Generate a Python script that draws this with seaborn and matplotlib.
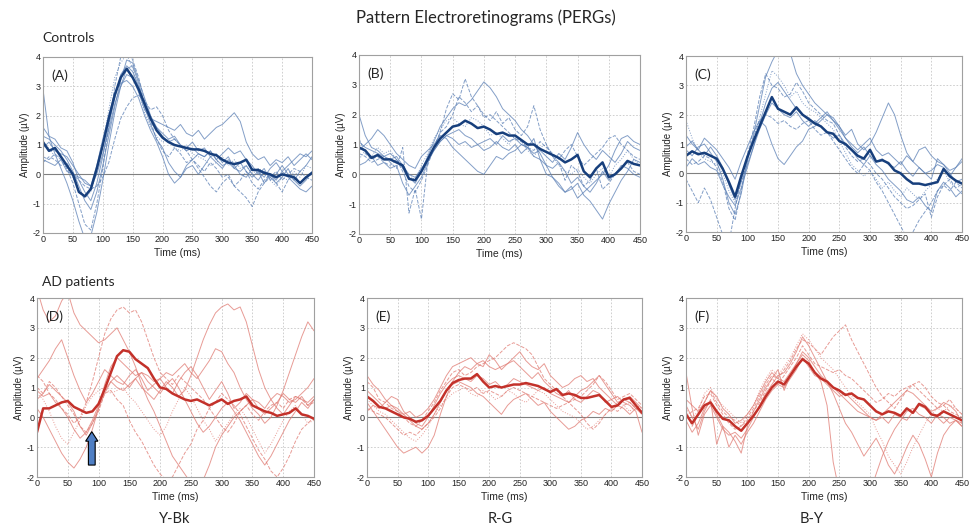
import matplotlib
matplotlib.use("Agg")
import matplotlib.pyplot as plt
import numpy as np
import pandas as pd
import seaborn as sns

# time axis (ms), one sample every 10 ms
time_ms = list(range(0, 451, 10))

# ---- Controls, Y-Bk (A) ----
a_mean = [1.1, 0.8, 0.9, 0.6, 0.3, 0.0, -0.6, -0.75, -0.5, 0.2, 1.0, 1.9, 2.7, 3.3, 3.6, 3.3, 2.9, 2.4, 1.9, 1.5,
          1.25, 1.1, 1.0, 0.95, 0.9, 0.85, 0.85, 0.8, 0.7, 0.65, 0.5, 0.4, 0.35, 0.4, 0.5, 0.15, 0.15, 0.05, 0.0, -0.1,
          0.0, -0.05, -0.1, -0.3, -0.1, 0.05]
a1 = [1.3, 1.2, 1.0, 0.8, 0.5, 0.1, -0.4, -0.9, -1.2, -0.6, 0.3, 1.3, 2.3, 3.2, 3.9, 3.8, 3.2, 2.6, 2.0, 1.6, 1.3, 1.1,
      1.2, 1.0, 0.8, 0.9, 0.7, 0.6, 0.8, 0.5, 0.3, 0.4, 0.2, 0.1, 0.3, 0.0, -0.2, 0.1, -0.1, -0.3, -0.1, 0.2, -0.2, -0.4,
      -0.2, 0.1]
a2 = [0.6, 0.5, 0.7, 0.5, 0.2, -0.3, -1.0, -1.7, -1.9, -1.0, 0.2, 1.6, 3.0, 4.0, 4.3, 3.9, 3.3, 2.5, 1.8, 1.2, 0.8, 0.6,
      0.9, 0.7, 0.4, 0.5, 0.3, 0.1, 0.4, 0.2, -0.1, 0.0, -0.4, -0.2, 0.1, -0.3, -0.5, -0.2, 0.0, -0.3, -0.6, -0.2, 0.0,
      -0.3, -0.1, -0.2]
a3 = [0.9, 1.1, 0.8, 0.7, 0.6, 0.3, 0.0, -0.3, -0.4, 0.0, 0.7, 1.5, 2.4, 3.0, 3.4, 3.3, 2.8, 2.2, 1.9, 1.8, 1.7, 1.6,
      1.5, 1.7, 1.4, 1.3, 1.5, 1.2, 1.4, 1.6, 1.7, 1.9, 2.1, 1.8, 1.1, 0.7, 0.5, 0.6, 0.3, 0.5, 0.4, 0.6, 0.3, 0.5, 0.7,
      0.5]
a4 = [0.4, 0.6, 0.5, 0.3, 0.4, 0.0, -0.2, -0.4, -0.5, -0.4, -0.1, 0.4, 1.2, 1.9, 2.3, 2.6, 2.7, 2.5, 2.2, 2.3, 2.0, 1.5,
      1.2, 1.0, 0.8, 0.5, 0.2, -0.1, -0.4, -0.6, -0.3, -0.1, -0.4, -0.6, -0.8, -1.1, -0.6, -0.3, -0.1, 0.1, -0.2, 0.0,
      0.2, 0.1, -0.1, 0.0]
a5 = [1.6, 1.3, 1.2, 0.9, 0.8, 0.4, -0.2, -0.6, -0.9, -0.3, 0.6, 1.7, 2.6, 3.4, 3.7, 3.5, 3.0, 2.3, 1.7, 1.2, 0.9, 0.4,
      0.1, -0.1, 0.2, 0.3, 0.0, 0.3, 0.6, 0.4, 0.2, 0.5, 0.3, 0.0, -0.1, 0.2, 0.1, -0.1, 0.2, 0.4, 0.1, 0.3, 0.5, 0.7,
      0.6, 0.8]
a6 = [2.9, 1.3, 0.7, 0.2, -0.3, -0.9, -1.6, -2.2, -2.1, -1.3, -0.2, 1.0, 2.1, 3.0, 3.6, 3.7, 3.1, 2.4, 1.9, 1.6, 1.4,
      1.2, 1.3, 1.0, 0.9, 1.1, 0.8, 0.9, 0.6, 0.7, 0.4, 0.6, 0.2, 0.4, 0.1, -0.1, 0.1, -0.3, 0.0, -0.2, 0.1, -0.1, -0.3,
      -0.5, -0.6, -0.4]
a7 = [1.0, 0.9, 0.6, 0.6, 0.2, -0.1, -0.5, -0.8, -0.6, 0.1, 1.0, 2.2, 3.3, 3.8, 4.1, 3.6, 2.9, 2.1, 1.6, 1.3, 1.1, 1.2,
      0.9, 0.8, 1.0, 0.7, 0.6, 0.5, 0.3, 0.4, 0.6, 0.3, 0.5, 0.2, 0.3, 0.0, 0.2, 0.1, -0.2, -0.4, -0.1, -0.2, 0.1, -0.1,
      0.3, 0.2]
a8 = [0.5, 0.4, 0.3, 0.5, 0.1, 0.0, -0.1, -0.2, -0.4, 0.3, 1.2, 2.0, 2.8, 3.1, 3.2, 3.0, 2.6, 2.0, 1.5, 1.1, 0.6, 0.0,
      -0.3, -0.1, 0.3, 0.5, 0.7, 0.6, 0.8, 0.5, 0.7, 0.9, 0.7, 0.8, 0.5, 0.3, 0.0, 0.2, -0.2, 0.0, 0.3, 0.0, -0.2, 0.1,
      0.3, 0.6]

# ---- Controls, R-G (B) ----
b_mean = [0.9, 0.8, 0.55, 0.65, 0.5, 0.5, 0.4, 0.3, -0.15, -0.2, 0.1, 0.5, 0.9, 1.2, 1.4, 1.6, 1.65, 1.8, 1.7, 1.55,
          1.6, 1.5, 1.35, 1.4, 1.3, 1.3, 1.15, 1.0, 1.0, 0.85, 0.75, 0.65, 0.55, 0.4, 0.5, 0.65, 0.1, -0.1, 0.2, 0.4,
          -0.1, 0.0, 0.2, 0.45, 0.35, 0.3]
b1 = [1.1, 0.9, 0.8, 0.7, 0.6, 0.7, 0.5, 0.2, -0.1, -0.3, 0.1, 0.6, 1.1, 1.6, 1.9, 2.2, 2.4, 2.3, 2.5, 2.8, 3.1, 2.9,
      2.6, 2.2, 2.0, 1.8, 1.5, 1.3, 1.0, 0.7, 0.3, -0.1, -0.4, -0.6, -0.5, -0.3, -0.7, -0.9, -1.2, -1.5, -1.0, -0.6,
      -0.2, 0.1, 0.5, 0.4]
b2 = [0.7, 0.6, 0.4, 0.5, 0.6, 0.4, 0.2, 0.9, -1.3, -0.5, -1.5, 0.4, 0.9, 1.4, 2.2, 2.7, 2.5, 3.2, 2.6, 2.3, 2.0, 1.8,
      2.1, 1.7, 1.9, 1.5, 1.3, 1.6, 2.3, 1.5, 1.0, 0.6, 0.4, -0.2, 0.3, 0.1, -0.4, -0.2, 0.2, -0.5, -0.3, 0.0, 0.2, 0.4,
      0.1, 0.0]
b3 = [0.8, 1.0, 1.2, 1.5, 1.3, 1.0, 0.7, 0.5, 0.3, 0.2, 0.6, 0.8, 1.0, 1.3, 1.2, 0.9, 0.7, 0.5, 0.3, 0.1, 0.0, 0.3, 0.6,
      0.5, 0.7, 0.8, 1.0, 0.9, 1.2, 0.5, 0.0, -0.1, -0.3, -0.6, -0.4, -0.8, -0.6, -0.4, -0.2, 0.0, 0.3, 0.8, 1.2, 1.3,
      1.1, 1.0]
b4 = [1.2, 0.7, 0.5, 0.6, 0.4, 0.3, 0.5, 0.1, -0.4, -0.6, -0.2, 0.3, 0.9, 1.4, 1.6, 2.0, 2.6, 2.4, 2.1, 2.3, 1.9, 2.0,
      1.8, 1.6, 1.4, 1.2, 1.1, 0.9, 0.8, 1.1, 0.9, 0.7, 0.5, 0.8, 1.0, 0.6, 0.3, 0.5, 0.7, 0.9, 1.2, 1.3, 1.0, 0.8, 0.6,
      0.5]
b5 = [0.3, 0.4, 0.6, 0.3, 0.4, 0.2, 0.3, -0.3, -0.7, -0.4, -0.1, 0.4, 0.8, 1.1, 1.3, 1.2, 1.0, 1.1, 0.9, 1.0, 0.8, 0.9,
      1.1, 0.9, 0.8, 1.0, 0.7, 0.9, 0.6, 0.5, 0.3, 0.2, 0.4, 0.1, -0.3, -0.1, -0.4, -0.6, -0.3, 0.1, -0.2, 0.0, 0.3, 0.2,
      0.0, -0.1]
b6 = [2.0, 1.3, 0.9, 0.8, 0.6, 0.5, 0.6, 0.3, 0.0, -0.1, 0.2, 0.5, 0.8, 1.1, 1.3, 1.4, 1.5, 1.3, 1.2, 1.0, 1.1, 1.2,
      1.0, 1.3, 1.1, 1.2, 1.0, 0.9, 0.7, 0.8, 0.6, 0.4, 0.7, 0.5, 0.9, 1.4, 1.0, 0.7, 0.5, 0.8, 0.6, 0.4, 0.7, 1.1, 0.9,
      0.8]
b7 = [0.5, 0.8, 0.6, 0.9, 0.7, 0.8, 0.5, 0.2, 0.0, -0.2, 0.3, 0.7, 1.2, 1.5, 1.8, 1.9, 1.7, 1.6, 1.9, 1.8, 1.6, 1.3,
      1.4, 1.2, 1.0, 1.3, 1.1, 0.8, 0.6, 0.9, 1.0, 0.6, 0.3, 0.1, 0.0, 0.2, -0.1, -0.3, 0.0, 0.2, -0.1, 0.3, 0.5, 0.8,
      0.5, 0.3]

# ---- Controls, B-Y (C) ----
c_mean = [0.6, 0.75, 0.65, 0.7, 0.6, 0.5, 0.15, -0.3, -0.8, -0.1, 0.55, 1.1, 1.6, 2.1, 2.6, 2.2, 2.1, 2.0, 2.25, 2.0,
          1.85, 1.7, 1.6, 1.4, 1.35, 1.1, 1.0, 0.8, 0.6, 0.5, 0.8, 0.4, 0.45, 0.35, 0.1, 0.0, -0.2, -0.35, -0.35, -0.4,
          -0.35, -0.3, 0.15, -0.1, -0.25, -0.35]
c1 = [0.8, 0.6, 0.9, 1.0, 0.7, 0.4, -0.2, -1.0, -1.4, -0.7, 0.4, 1.3, 2.3, 3.3, 3.8, 4.2, 4.4, 4.1, 3.4, 3.0, 2.7, 2.4,
      2.2, 2.0, 1.8, 1.6, 1.2, 0.9, 0.7, 0.9, 0.6, 0.3, 0.1, -0.2, -0.4, -0.6, -0.9, -1.0, -0.8, -1.1, -1.3, -0.6, -0.3,
      -0.5, -0.8, -0.6]
c2 = [0.5, 0.3, 0.4, 0.6, 0.5, 0.2, -0.3, -1.2, -1.6, -0.6, 0.6, 1.5, 2.6, 3.4, 3.0, 2.9, 2.6, 2.7, 3.1, 2.8, 2.4, 2.2,
      2.0, 1.8, 1.7, 1.3, 0.9, 0.6, 0.4, 0.5, 0.3, 0.0, -0.2, -0.5, -0.8, -1.0, -1.2, -1.1, -0.9, -0.7, -1.5, -0.8, -0.4,
      -0.6, -0.3, -0.5]
c3 = [1.3, 1.0, 0.8, 1.2, 1.0, 0.8, 0.5, 0.2, -0.2, 0.4, 0.9, 1.4, 1.8, 1.6, 1.0, 0.5, 0.3, 0.6, 0.9, 1.1, 1.5, 1.6,
      1.8, 2.0, 1.9, 1.6, 1.3, 1.5, 1.0, 0.8, 1.0, 1.4, 1.9, 2.4, 2.0, 1.3, 0.7, 0.4, 0.2, 0.0, 0.1, 0.3, 0.2, -0.1, 0.2,
      0.4]
c4 = [-0.2, -0.6, -1.0, -0.5, -0.9, -1.5, -2.1, -2.4, -1.2, -0.2, 0.6, 1.2, 1.8, 2.0, 1.9, 1.7, 1.8, 1.6, 1.5, 1.7, 1.8,
      1.5, 1.3, 1.4, 1.1, 0.8, 0.5, 0.2, 0.0, 0.3, 0.1, -0.3, -0.6, -1.0, -1.4, -1.8, -2.2, -2.0, -1.6, -1.3, -1.0, -0.6,
      -0.4, -0.2, -0.5, -0.7]
c5 = [0.9, 1.1, 0.8, 0.6, 0.9, 0.6, 0.2, -0.4, -0.9, -0.3, 0.3, 0.9, 1.5, 2.0, 2.4, 2.2, 2.0, 1.9, 2.1, 1.8, 1.6, 1.8,
      1.6, 1.4, 1.2, 1.3, 1.0, 0.8, 0.5, 0.3, 0.6, 0.4, 0.5, 0.3, 0.2, 0.4, 0.1, -0.1, 0.2, 0.0, -0.2, 0.5, 0.3, 0.0,
      -0.3, -0.2]
c6 = [0.2, 0.5, 0.3, 0.4, 0.2, 0.1, -0.4, -0.8, -1.1, -0.5, 0.2, 0.9, 1.7, 2.4, 2.9, 3.1, 2.8, 2.5, 2.2, 2.0, 1.9, 1.7,
      1.9, 2.1, 1.8, 1.5, 1.2, 1.0, 0.8, 1.0, 1.2, 0.8, 0.6, 0.7, 0.5, 0.3, 0.6, 0.4, 0.8, 0.9, 0.6, 0.4, 0.3, 0.1, 0.2,
      0.5]
c7 = [1.8, 1.2, 0.7, 0.5, 0.4, 0.3, 0.0, -0.6, -1.0, -0.3, 0.5, 1.2, 1.9, 2.7, 3.5, 3.3, 3.0, 2.6, 2.8, 2.4, 2.2, 2.1,
      1.9, 1.7, 1.5, 1.1, 0.7, 0.3, 0.1, -0.1, 0.1, -0.2, -0.5, -0.3, -0.6, -0.8, -0.5, -0.7, -0.9, -0.6, -0.4, -0.2,
      0.1, -0.3, -0.5, -0.4]

# ---- AD patients, Y-Bk (D) ----
d_mean = [-0.5, 0.3, 0.3, 0.4, 0.5, 0.55, 0.35, 0.25, 0.15, 0.2, 0.45, 0.95, 1.5, 2.05, 2.25, 2.2, 1.95, 1.8, 1.65, 1.3,
          1.0, 0.95, 0.8, 0.7, 0.6, 0.55, 0.6, 0.5, 0.4, 0.5, 0.6, 0.45, 0.55, 0.6, 0.7, 0.4, 0.3, 0.2, 0.15, 0.05, 0.1,
          0.15, 0.3, 0.1, 0.05, -0.05]
d1 = [4.3, 3.6, 3.2, 3.4, 3.9, 4.2, 3.5, 3.1, 2.9, 2.7, 2.5, 2.6, 2.8, 3.0, 2.6, 2.2, 1.7, 1.1, 0.6, 0.2, -0.3, -0.8,
      -1.3, -1.6, -1.9, -2.2, -2.5, -2.1, -1.6, -1.0, -0.6, -0.3, 0.0, 0.2, 0.4, 0.6, 0.5, 0.3, 0.6, 0.8, 0.7, 0.5, 0.6,
      0.8, 1.0, 1.3]
d2 = [1.4, 1.2, 0.8, 0.6, 0.3, 0.1, -0.2, 0.0, 0.5, 1.2, 2.0, 2.8, 3.3, 3.6, 3.7, 3.5, 3.6, 3.2, 2.6, 2.0, 1.5, 1.3,
      1.1, 1.4, 1.2, 1.0, 0.8, 0.6, 0.3, 0.0, -0.3, -0.5, -0.2, 0.2, 0.4, 0.1, -0.1, 0.2, 0.4, 0.5, 0.3, 0.6, 0.7, 0.6,
      0.4, 0.5]
d3 = [0.6, 0.8, 1.1, 0.9, 0.7, 0.5, 0.2, -0.3, -0.6, -0.2, 0.3, 0.8, 1.2, 1.0, 0.9, 1.1, 1.3, 1.0, 0.8, 0.6, 0.9, 1.2,
      1.0, 0.7, 0.9, 1.4, 2.0, 2.6, 3.1, 3.5, 3.7, 3.8, 3.6, 3.7, 3.2, 2.4, 1.6, 1.0, 0.6, 0.3, 0.1, 0.4, 0.7, 0.6, 0.5,
      0.7]
d4 = [1.0, 0.8, 1.2, 1.0, 0.7, 0.4, 0.1, -0.3, -0.5, -0.2, 0.2, 0.8, 0.9, 0.6, 0.4, -0.1, -0.5, -0.8, -1.2, -1.6, -1.9,
      -2.1, -2.0, -1.6, -1.2, -0.9, -0.4, -0.1, 0.3, 0.5, 0.8, 0.6, 0.4, 0.1, -0.3, -0.7, -1.1, -1.4, -1.8, -2.0, -1.7,
      -1.3, -0.8, -0.4, -0.2, 0.0]
d5 = [0.9, 0.7, 0.8, 0.5, 0.3, 0.0, -0.4, -0.7, -0.5, -0.1, 0.4, 0.9, 1.2, 1.4, 1.2, 1.0, 1.3, 1.5, 1.4, 1.2, 1.3, 1.5,
      1.4, 1.6, 1.8, 1.5, 1.3, 1.6, 1.9, 2.3, 2.2, 1.8, 1.5, 1.0, 0.6, 0.3, 0.1, -0.2, 0.0, 0.4, 0.9, 1.5, 2.1, 2.7, 3.2,
      2.9]
d6 = [0.3, 0.0, -0.4, -0.8, -1.2, -1.5, -1.7, -1.4, -1.0, -0.4, 0.3, 1.1, 1.7, 2.0, 1.8, 1.6, 1.4, 1.5, 1.2, 1.0, 0.8,
      1.1, 1.3, 1.0, 0.6, 0.2, -0.2, -0.5, -0.3, 0.0, 0.3, 0.5, 0.2, -0.1, -0.5, -0.9, -1.3, -1.6, -1.3, -0.9, -0.5,
      -0.1, 0.2, 0.5, 0.3, 0.6]
d7 = [0.8, 0.6, 0.2, -0.3, -0.7, -0.9, -0.5, -0.1, 0.4, 0.7, 0.9, 1.0, 0.8, 0.9, 1.0, 0.7, 0.5, 0.2, -0.1, -0.4, -0.6,
      -0.3, 0.2, 0.6, 1.0, 0.7, 0.3, -0.1, -0.4, -0.8, -0.5, -0.2, 0.1, 0.3, 0.0, -0.4, -0.8, -1.2, -0.9, -0.5, -0.1,
      0.2, 0.4, 0.1, -0.2, -0.1]
d8 = [1.3, 1.6, 1.9, 2.3, 2.6, 2.0, 1.4, 0.9, 0.5, 0.8, 1.2, 1.6, 1.4, 1.2, 1.1, 1.4, 1.6, 1.3, 0.9, 1.1, 1.3, 1.0,
      0.8, 1.2, 1.5, 1.7, 1.4, 1.0, 0.6, 0.9, 1.2, 0.8, 0.3, 0.5, 0.8, 0.6, 0.3, 0.1, 0.3, 0.5, 0.8, 0.6, 0.5, 0.7, 0.4,
      0.6]

# ---- AD patients, R-G (E) ----
e_mean = [0.7, 0.55, 0.35, 0.3, 0.2, 0.1, 0.0, -0.05, -0.15, -0.1, 0.05, 0.3, 0.55, 0.9, 1.15, 1.25, 1.3, 1.3, 1.45,
          1.2, 1.0, 1.05, 1.0, 1.05, 1.1, 1.1, 1.15, 1.1, 1.05, 0.95, 0.85, 0.95, 0.75, 0.8, 0.75, 0.65, 0.65, 0.7, 0.75,
          0.55, 0.35, 0.4, 0.6, 0.65, 0.4, 0.15]
e1 = [0.5, 0.2, -0.1, -0.4, -0.7, -1.0, -1.2, -1.1, -1.0, -1.2, -1.0, -0.6, 0.1, 0.7, 1.2, 1.5, 1.7, 1.6, 1.8, 1.9,
      1.7, 1.6, 1.7, 1.8, 1.9, 1.7, 1.5, 1.3, 1.5, 1.2, 1.0, 0.8, 0.7, 0.9, 0.6, 0.5, 0.7, 0.9, 0.8, 0.5, 0.6, 0.4, 0.6,
      0.5, 0.3, 0.1]
e2 = [1.2, 1.0, 0.6, 0.5, 0.3, 0.2, 0.0, -0.2, -0.3, -0.1, 0.2, 0.5, 0.9, 1.2, 1.5, 1.6, 1.4, 1.5, 1.7, 1.8, 1.9, 2.0,
      2.2, 2.4, 2.5, 2.4, 2.3, 2.1, 1.7, 1.3, 1.1, 0.9, 0.7, 0.5, 0.3, 0.1, -0.2, -0.4, -0.2, 0.1, 0.3, 0.2, 0.4, 0.5,
      0.3, 0.2]
e3 = [0.9, 0.7, 0.5, 0.3, 0.4, 0.2, 0.1, 0.2, 0.0, 0.1, 0.3, 0.6, 1.0, 1.4, 1.7, 1.8, 1.9, 2.0, 1.8, 1.7, 2.1, 1.9,
      1.6, 1.8, 2.0, 2.2, 1.9, 1.7, 1.6, 1.8, 1.4, 1.2, 1.0, 1.1, 1.3, 1.4, 1.2, 1.3, 1.0, 0.8, 0.6, 0.7, 0.5, 0.4, 0.2,
      -0.5]
e4 = [0.3, 0.2, 0.1, 0.0, -0.2, -0.4, -0.6, -0.5, -0.6, -0.4, -0.2, 0.0, 0.3, 0.7, 1.0, 1.1, 1.0, 0.9, 1.0, 0.8, 0.9,
      0.8, 0.7, 0.9, 1.0, 0.9, 0.8, 0.7, 0.6, 0.5, 0.4, 0.3, 0.4, 0.5, 0.6, 0.7, 0.9, 1.1, 1.4, 1.2, 0.9, 0.6, 0.7, 0.8,
      0.6, 0.4]
e5 = [1.4, 1.1, 0.9, 0.6, 0.4, 0.3, 0.1, -0.1, -0.3, -0.4, -0.2, 0.1, 0.5, 0.9, 1.1, 1.2, 1.1, 1.0, 0.8, 0.7, 0.5,
      0.3, 0.1, 0.4, 0.6, 0.7, 0.8, 0.6, 0.4, 0.5, 0.2, 0.0, -0.2, -0.4, -0.3, -0.1, 0.0, 0.2, 0.1, 0.3, 0.2, 0.4, 0.3,
      0.1, 0.3, 0.2]
e6 = [0.2, 0.4, 0.3, 0.5, 0.7, 0.6, 0.2, 0.0, -0.2, -0.3, 0.0, 0.4, 0.8, 1.1, 1.3, 1.4, 1.3, 1.2, 1.4, 1.3, 1.1, 1.2,
      1.0, 1.1, 1.3, 1.2, 1.1, 1.0, 0.9, 1.0, 0.8, 0.7, 0.6, 0.5, 0.7, 0.9, 1.0, 1.2, 1.4, 1.1, 0.8, 0.5, 0.6, 0.7, 0.5,
      0.3]
e7 = [0.6, 0.4, 0.2, 0.1, -0.1, -0.3, -0.5, -0.7, -0.8, -0.6, -0.3, 0.1, 0.4, 0.6, 0.8, 0.9, 1.0, 0.8, 0.7, 0.9, 0.8,
      0.6, 0.7, 0.9, 0.8, 0.6, 0.5, 0.7, 0.9, 0.8, 0.6, 0.4, 0.2, 0.1, 0.0, -0.2, -0.4, -0.3, -0.1, 0.1, 0.3, 0.5, 0.4,
      0.2, 0.4, 0.3]

# ---- AD patients, B-Y (F) ----
f_mean = [0.1, -0.2, 0.1, 0.4, 0.5, 0.2, -0.05, -0.1, -0.3, -0.45, -0.2, 0.05, 0.35, 0.7, 1.0, 1.2, 1.1, 1.4, 1.7,
          1.95, 1.8, 1.5, 1.3, 1.2, 1.0, 0.9, 0.75, 0.8, 0.65, 0.6, 0.4, 0.2, 0.1, 0.2, 0.15, 0.05, 0.3, 0.15, 0.45, 0.35,
          0.1, 0.05, 0.2, 0.1, 0.0, -0.1]
f1 = [0.4, 0.0, -0.4, 0.2, 0.6, -0.9, -0.3, -0.5, -0.8, -1.2, -0.3, 0.2, 0.6, 1.0, 1.3, 1.6, 0.9, 1.4, 1.8, 2.1, 1.9,
      1.5, 1.2, 0.4, -1.5, -2.5, -2.5, -2.5, -2.5, -2.3, -2.5, -1.9, -1.3, -0.8, -0.4, -0.1, 0.2, 0.3, 0.1, 0.0, -0.2,
      0.1, 0.0, -0.2, -0.1, -0.3]
f2 = [0.2, -0.3, 0.1, 0.5, 0.9, 0.5, 0.2, 0.0, -0.1, -0.3, 0.0, 0.3, 0.7, 1.1, 1.4, 1.3, 1.6, 1.9, 2.3, 2.6, 2.5, 2.3,
      2.1, 2.4, 2.7, 2.9, 3.1, 2.6, 2.2, 1.8, 1.4, 1.0, 0.7, 0.5, 0.3, 0.6, 0.9, 1.1, 1.2, 1.0, 0.7, 0.5, 0.4, 0.6, 0.3,
      0.1]
f3 = [1.5, 0.3, -0.6, 0.1, 0.4, 0.0, -0.4, -0.6, -0.5, -0.7, -0.4, 0.0, 0.4, 0.8, 1.1, 1.4, 1.5, 1.8, 2.2, 2.7, 2.4,
      2.0, 1.6, 1.2, 0.8, 0.3, -0.2, -0.5, -0.9, -1.3, -1.0, -0.7, -1.1, -1.6, -1.9, -1.5, -1.0, -0.6, -0.9, -1.4, -2.0,
      -1.2, -0.6, -0.3, -0.1, -0.2]
f4 = [0.0, 0.2, 0.3, 0.7, 0.8, 0.4, 0.1, -0.2, -0.4, -0.3, -0.1, 0.2, 0.5, 0.9, 1.3, 1.1, 1.4, 1.7, 2.0, 2.4, 2.1, 1.8,
      1.7, 1.6, 1.5, 1.6, 1.4, 1.3, 1.1, 0.9, 0.7, 0.5, 0.6, 0.8, 0.7, 0.9, 1.0, 1.1, 0.9, 0.7, 0.5, 0.3, 0.4, 0.2, 0.1,
      0.0]
f5 = [0.6, 0.4, 0.2, 0.5, 0.9, 0.7, 0.3, 0.1, -0.2, -0.1, 0.1, 0.4, 0.8, 1.2, 1.5, 1.3, 1.2, 1.5, 1.8, 2.2, 2.0, 1.7,
      1.4, 1.2, 1.0, 0.8, 0.6, 0.4, 0.2, 0.1, 0.0, -0.1, 0.1, 0.3, 0.5, 0.7, 0.9, 0.8, 0.6, 0.4, 0.2, 0.3, 0.5, 0.4, 0.2,
      -0.2]
f6 = [-0.1, -0.5, -0.2, 0.3, 0.5, 0.1, -0.3, -1.0, -0.6, -0.9, -0.5, -0.2, 0.2, 0.6, 0.9, 1.1, 1.0, 1.3, 1.6, 2.0, 1.7,
      1.4, 1.3, 1.1, 0.9, 0.7, 0.8, 0.6, 0.4, 0.2, 0.0, -0.1, 0.0, -0.2, 0.1, 0.0, -0.1, 0.2, 0.4, 0.3, 0.1, 0.0, -0.2,
      0.0, -0.1, -0.3]
f7 = [0.3, 0.0, 0.2, 0.8, 1.0, 0.6, 0.4, 0.2, 0.0, -0.2, 0.1, 0.4, 0.9, 1.3, 1.6, 1.4, 1.7, 2.0, 2.4, 2.8, 2.6, 2.3,
      2.0, 1.8, 1.6, 1.3, 1.0, 0.7, 0.5, 0.3, 0.1, -0.4, -0.8, -1.3, -1.6, -1.9, -1.5, -1.0, -0.6, -0.2, 0.1, 0.3, 0.2,
      0.4, 0.3, 0.1]

panel_labels = ["(A)", "(B)", "(C)", "(D)", "(E)", "(F)"]
stim_labels = ["Y-Bk", "R-G", "B-Y"]
x_ticks = list(range(0, 451, 50))
y_ticks = [-2, -1, 0, 1, 2, 3, 4]

# line style for the single traces (cycled)
styles = ["-", "--", "-", "--", "-", "-", ":", "-"]

W, H = 971, 531
sns.set_theme(style="white")
plt.rcParams["font.family"] = ["Liberation Sans", "DejaVu Sans"]
plt.rcParams["axes.unicode_minus"] = False
fig = plt.figure(figsize=(W / 100, H / 100), dpi=100)


def px_rect(x0, y0, x1, y1):
    return [x0 / W, 1 - y1 / H, (x1 - x0) / W, (y1 - y0) / H]


panels = [
    (px_rect(43, 57, 312, 233), a_mean, [a1, a2, a3, a4, a5, a6, a7, a8], "blue"),
    (px_rect(359, 55, 640, 234), b_mean, [b1, b2, b3, b4, b5, b6, b7], "blue"),
    (px_rect(686, 56, 962, 232), c_mean, [c1, c2, c3, c4, c5, c6, c7], "blue"),
    (px_rect(37, 298, 314, 477), d_mean, [d1, d2, d3, d4, d5, d6, d7, d8], "red"),
    (px_rect(367, 298, 642, 477), e_mean, [e1, e2, e3, e4, e5, e6, e7], "red"),
    (px_rect(686, 298, 962, 477), f_mean, [f1, f2, f3, f4, f5, f6, f7], "red"),
]
colors = {"blue": ("#5a7fb5", "#173f7c"), "red": ("#e07a72", "#c3312a")}
label_font = ["Lato", "DejaVu Sans"]

axes = []
for i, (rect, mean, traces, tone) in enumerate(panels):
    ax = fig.add_axes(rect)
    thin, thick = colors[tone]
    for j, tr in enumerate(traces):
        sns.lineplot(x=time_ms, y=tr, ax=ax, color=thin, lw=0.7, alpha=0.75,
                     linestyle=styles[j % len(styles)])
    sns.lineplot(x=time_ms, y=mean, ax=ax, color=thick, lw=1.8)
    ax.axhline(0, color="#808080", lw=0.8, zorder=1)
    ax.set_xlim(0, 450)
    ax.set_ylim(-2, 4)
    ax.set_xticks(x_ticks)
    ax.set_yticks(y_ticks)
    ax.grid(True, ls=(0, (2, 2)), color="#c8c8c8", lw=0.6)
    for s in ax.spines.values():
        s.set_color("#a0a0a0")
        s.set_linewidth(0.8)
    ax.tick_params(labelsize=6.5, length=0, pad=1.5, labelcolor="#222222")
    ax.set_xlabel("Time (ms)", fontsize=7.5, labelpad=3)
    ax.set_ylabel("Amplitude (µV)", fontsize=7, labelpad=2)
    ax.text(0.03, 0.93, panel_labels[i], transform=ax.transAxes, fontsize=10,
            ha="left", va="top", family=label_font)
    axes.append(ax)

# arrow marking the P50 onset in (D)
axes[3].arrow(89, -1.6, 0, 0.8, width=11, head_width=20, head_length=0.32,
              length_includes_head=False, fc="#4f7fc4", ec="black", lw=0.8, zorder=5)

fig.text(0.5, 1 - 18 / H, "Pattern Electroretinograms (PERGs)", ha="center", va="center",
         fontsize=12, family=label_font)
fig.text(42 / W, 1 - 38 / H, "Controls", ha="left", va="center", fontsize=10, family=label_font)
fig.text(42 / W, 1 - 282 / H, "AD patients", ha="left", va="center", fontsize=10, family=label_font)
for lab, xc in zip(stim_labels, [175, 500, 812]):
    fig.text(xc / W, 1 - 519 / H, lab, ha="center", va="center", fontsize=10.5, family=label_font)

fig.savefig("out.png", dpi=100)
